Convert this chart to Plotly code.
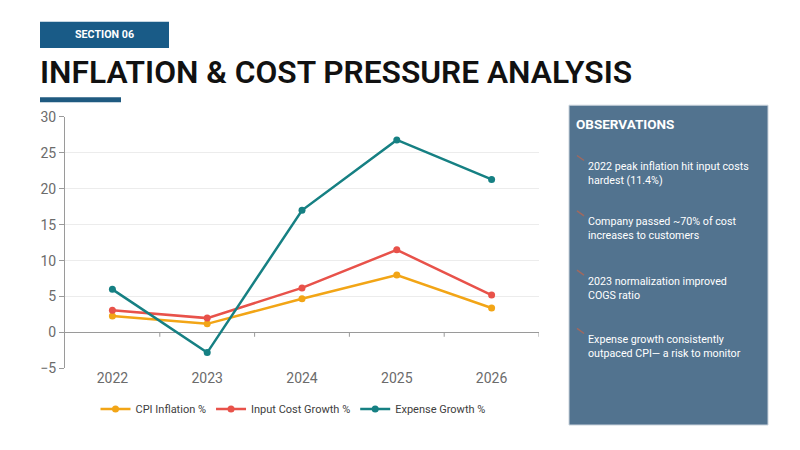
import plotly.graph_objects as go

years = ["2022", "2023", "2024", "2025", "2026"]
cpi = [2.3, 1.2, 4.7, 8.0, 3.4]
input_cost = [3.1, 2.0, 6.2, 11.5, 5.2]
expense = [6.0, -2.8, 17.0, 26.8, 21.3]
series_names = ["CPI Inflation %", "Input Cost Growth %", "Expense Growth %"]
series_colors = ["#F2A516", "#E8524A", "#168083"]
y_ticks = [-5, 0, 5, 10, 15, 20, 25, 30]

observations = [
    "2022 peak inflation hit input costs<br>hardest (11.4%)",
    "Company passed ~70% of cost<br>increases to customers",
    "2023 normalization improved<br>COGS ratio",
    "Expense growth consistently<br>outpaced CPI\u2014 a risk to monitor",
]

W, H = 800, 450
# map screen pixel targets to paper coordinates (page offset compensation)
def px(x):
    return (x - 8) / W
def py(y):
    return 1 - ((y - 16.3) / 0.959) / H

fig = go.Figure()
for name, vals, col in zip(series_names, [cpi, input_cost, expense], series_colors):
    fig.add_trace(go.Scatter(
        x=years, y=vals, name=name, mode="lines+markers",
        line=dict(color=col, width=2.5),
        marker=dict(color=col, size=7),
    ))

shapes = []
shapes.append(dict(type="rect", xref="paper", yref="paper",
                   x0=px(40), x1=px(169), y0=py(48), y1=py(22),
                   fillcolor="#195B87", line=dict(width=0), layer="above"))
shapes.append(dict(type="rect", xref="paper", yref="paper",
                   x0=px(40), x1=px(121), y0=py(102), y1=py(97),
                   fillcolor="#1F5A80", line=dict(width=0), layer="above"))
shapes.append(dict(type="rect", xref="paper", yref="paper",
                   x0=px(569), x1=px(768), y0=py(423), y1=py(105),
                   fillcolor="#52738F", line=dict(color="#C9D3DC", width=1), layer="below"))

annotations = [
    dict(text="<b>SECTION 06</b>", xref="paper", yref="paper", x=px(104), y=py(35),
         xanchor="center", yanchor="middle", showarrow=False,
         font=dict(family="Roboto", size=10.7, color="white")),
    dict(text="INFLATION & COST PRESSURE ANALYSIS", xref="paper", yref="paper",
         x=px(38), y=py(72), xanchor="left", yanchor="middle", showarrow=False,
         font=dict(family="Roboto", size=31.7, color="#111111", weight=600)),
    dict(text="<b>OBSERVATIONS</b>", xref="paper", yref="paper", x=px(574), y=py(124),
         xanchor="left", yanchor="middle", showarrow=False,
         font=dict(family="Roboto", size=13.5, color="white")),
]

bullet_y = [158, 213, 272, 330]
for by, txt in zip(bullet_y, observations):
    shapes.append(dict(type="line", xref="paper", yref="paper",
                       x0=px(577), x1=px(584), y0=py(by - 3), y1=py(by + 2),
                       line=dict(color="#A0695F", width=1.5)))
    annotations.append(dict(text=txt, xref="paper", yref="paper", x=px(586), y=py(by + 15),
                            xanchor="left", yanchor="middle", align="left", showarrow=False,
                            font=dict(family="Roboto", size=10.7, color="white")))

fig.update_layout(
    width=W, height=H, autosize=False,
    margin=dict(l=0, r=0, t=0, b=0),
    paper_bgcolor="white", plot_bgcolor="white",
    shapes=shapes, annotations=annotations,
    showlegend=True,
    legend=dict(orientation="h", x=px(293), y=py(407), xanchor="center", yanchor="middle",
                font=dict(family="Roboto", size=11, color="#404040"),
                itemwidth=30, bgcolor="rgba(0,0,0,0)"),
    xaxis=dict(domain=[px(65), px(539)], type="category", range=[-0.5, 4.5],
               showgrid=False, showline=False, zeroline=False,
               ticks="", tickfont=dict(family="Roboto", size=14, color="#6B6B6B"),
               fixedrange=True),
    yaxis=dict(domain=[py(366.7), py(116.7)], range=[-5, 30], tickvals=y_ticks,
               showgrid=True, gridcolor="#ECECEC", gridwidth=1,
               zeroline=True, zerolinecolor="#9A9A9A", zerolinewidth=1,
               showline=True, linecolor="#9A9A9A", linewidth=1,
               ticks="outside", ticklen=5, tickcolor="#9A9A9A",
               tickfont=dict(family="Roboto", size=14, color="#6B6B6B"),
               fixedrange=True),
)

for i in range(5):
    fig.add_shape(type="line", xref="x", yref="y", x0=i + 0.5, x1=i + 0.5,
                  y0=0, y1=-0.6, line=dict(color="#9A9A9A", width=1))

fig.write_html("out.html")
